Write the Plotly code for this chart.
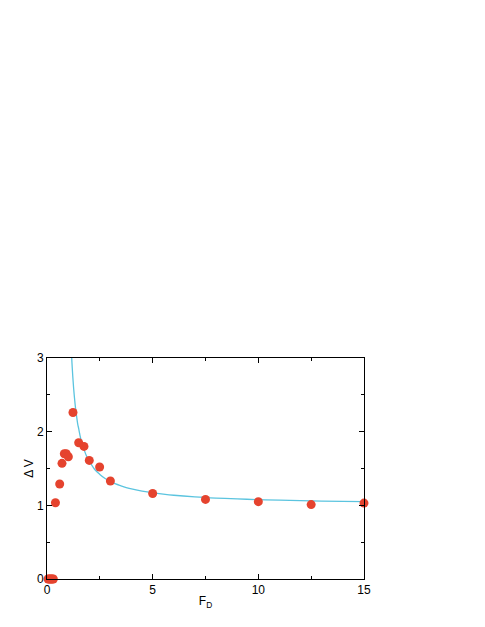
import plotly.graph_objects as go

fd = [0.05, 0.1, 0.15, 0.2, 0.25, 0.3, 0.4, 0.6, 0.71, 0.82, 0.91, 1.01, 1.23, 1.5, 1.75,
      2.0, 2.49, 3.0, 5.0, 7.5, 10.0, 12.5, 15.0]
dv = [0, 0, 0, 0, 0, 0, 1.035, 1.29, 1.57, 1.70, 1.70, 1.66, 2.26, 1.85, 1.80,
      1.61, 1.52, 1.33, 1.16, 1.08, 1.05, 1.01, 1.03]

# fitted curve
fit_x = [1.15, 1.18, 1.22, 1.26, 1.30, 1.35, 1.40, 1.45, 1.50, 1.60, 1.75, 1.9, 2.0, 2.25,
         2.5, 2.75, 3.0, 3.25, 3.5, 3.75, 4.0, 4.5, 5.0, 5.5, 6.0, 7.0, 8.0, 9.0, 10.0,
         11.0, 12.5, 14.0, 15.0]
fit_y = [3.12, 2.94, 2.75, 2.59, 2.46, 2.32, 2.21, 2.11, 2.04, 1.90, 1.76, 1.65, 1.60, 1.49,
         1.42, 1.365, 1.325, 1.29, 1.265, 1.242, 1.222, 1.193, 1.170, 1.152, 1.137, 1.115,
         1.099, 1.087, 1.077, 1.070, 1.061, 1.054, 1.050]

fig = go.Figure()
fig.add_trace(go.Scatter(x=fit_x, y=fit_y, mode='lines',
                         line=dict(color='#5bc4df', width=1.3, shape='spline')))
fig.add_trace(go.Scatter(x=fd, y=dv, mode='markers', cliponaxis=False,
                         marker=dict(color='#e5432e', size=9)))

axis = dict(showgrid=False, zeroline=False, showline=True, linecolor='black', linewidth=1,
            mirror='ticks', ticks='inside', ticklen=5, tickcolor='black',
            tickfont=dict(size=12, color='black'))

fig.update_layout(
    width=485, height=627,
    margin=dict(l=39, r=129, t=350, b=56),
    plot_bgcolor='white', paper_bgcolor='white',
    showlegend=False,
    font=dict(family='Liberation Sans, Arial, sans-serif', color='black'),
    xaxis=dict(axis, range=[0, 15], dtick=5, tick0=0,
               minor=dict(dtick=2.5, ticks='inside', ticklen=3, tickcolor='black'),
               title=dict(text='F<sub>D</sub>', font=dict(size=12), standoff=0)),
    yaxis=dict(axis, range=[0, 3], dtick=1, tick0=0,
               minor=dict(dtick=0.5, ticks='inside', ticklen=3, tickcolor='black'),
               title=dict(text='Δ V', font=dict(size=12), standoff=0)),
)

fig.write_html("out.html")
